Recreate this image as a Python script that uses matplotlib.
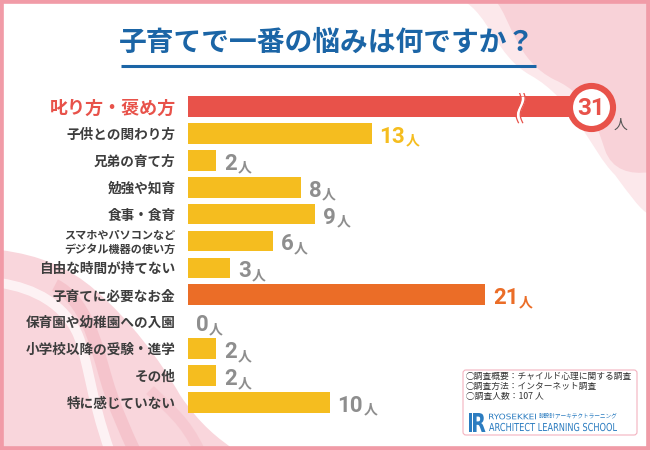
"""子育ての悩みアンケート: horizontal bar chart with a broken top bar."""

import matplotlib

matplotlib.use("Agg")
import matplotlib.pyplot as plt
import numpy as np
from matplotlib import font_manager
from matplotlib.font_manager import FontProperties
from matplotlib.patches import FancyBboxPatch, PathPatch, Rectangle
from matplotlib.path import Path
from matplotlib.textpath import TextPath
from matplotlib.transforms import Affine2D

title = "子育てで一番の悩みは何ですか？"
categories = [
    "叱り方・褒め方",
    "子供との関わり方",
    "兄弟の育て方",
    "勉強や知育",
    "食事・食育",
    "スマホやパソコンなど\nデジタル機器の使い方",
    "自由な時間が持てない",
    "子育てに必要なお金",
    "保育園や幼稚園への入園",
    "小学校以降の受験・進学",
    "その他",
    "特に感じていない",
]
counts = [31, 13, 2, 8, 9, 6, 3, 21, 0, 2, 2, 10]
unit = "人"
survey_notes = [
    "◯調査概要：チャイルド心理に関する調査",
    "◯調査方法：インターネット調査",
    "◯調査人数：107 人",
]
brand_top = "RYOSEKKEI"
brand_jp = "諒設計アーキテクトラーニング"
brand_bottom = "ARCHITECT LEARNING SCHOOL"

RED = "#e8524a"
ORANGE = "#eb6d27"
YELLOW = "#f5bd1f"
GREY = "#8e8e8e"
TEXT = "#3d3d3d"
BLUE = "#1b65a6"
LOGO_BLUE = "#2b7cc0"

installed = {f.name for f in font_manager.fontManager.ttflist}
num_font = "Roboto" if "Roboto" in installed else "DejaVu Sans"
plt.rcParams["font.family"] = ["Noto Sans CJK JP", "DejaVu Sans"]

W, H = 650, 450
fig = plt.figure(figsize=(6.5, 4.5), dpi=100)

# background layer in pixel coordinates (decoration, frame, title, notes)
bg = fig.add_axes([0, 0, 1, 1], zorder=0)
bg.set_xlim(0, W)
bg.set_ylim(H, 0)
bg.set_axis_off()

M, C, L, Z = Path.MOVETO, Path.CURVE4, Path.LINETO, Path.CLOSEPOLY


def blob(verts, codes, **kw):
    bg.add_patch(PathPatch(Path(verts, codes), **kw))


def fitted_text(s, left, baseline, width, cap, weight="normal", color=LOGO_BLUE):
    # squeeze a string into a box so the condensed logo type fits
    prop = FontProperties(family="DejaVu Sans", weight=weight)
    tp = TextPath((0, 0), s, size=10, prop=prop)
    ext = tp.get_extents()
    cap_ref = TextPath((0, 0), "H", size=10, prop=prop).get_extents().height
    tr = (Affine2D().translate(-ext.x0, 0)
          .scale(width / ext.width, -cap / cap_ref).translate(left, baseline))
    bg.add_patch(PathPatch(tr.transform_path(tp), fc=color, ec="none", lw=0))


# top-right pink waves
blob([(462, 0), (490, 15), (495, 55), (530, 75), (575, 100), (590, 150), (615, 175),
      (630, 195), (640, 210), (650, 215), (650, 0), (462, 0)],
     [M, C, C, C, C, C, C, C, C, C, L, Z], fc="#fce8eb", ec="none")
blob([(495, 0), (512, 20), (515, 60), (555, 80), (590, 95), (598, 130), (605, 150),
      (612, 170), (630, 175), (650, 172), (650, 0), (495, 0)],
     [M, C, C, C, C, C, C, C, C, C, L, Z], fc="#f8d2d8", ec="none")

# bottom-left ribbons
blob([(0, 250), (40, 255), (70, 268), (95, 290), (130, 320), (160, 360), (180, 395),
      (200, 425), (220, 440), (235, 450), (0, 450), (0, 250)],
     [M, C, C, C, C, C, C, C, C, C, L, Z], fc="#f9d6dc", ec="none")
blob([(0, 283), (35, 288), (65, 305), (78, 335), (88, 360), (90, 395), (110, 452)],
     [M, C, C, C, C, C, C], fill=False, ec="white", lw=7, alpha=0.7)
blob([(55, 285), (85, 300), (95, 340), (105, 375), (115, 410), (125, 430), (135, 452)],
     [M, C, C, C, C, C, C], fill=False, ec="#f2b3bd", lw=9, alpha=0.5)
blob([(150, 390), (170, 410), (185, 420), (200, 452)],
     [M, C, C, C], fill=False, ec="#f4bec7", lw=8, alpha=0.5)

# outer pink frame
bg.add_patch(Rectangle((0, 0), W, H, fill=False, ec="#f19ba7", lw=5.5))

# title with underline
fig.text(327 / W, 1 - 43 / H, title, ha="center", va="center", fontsize=20,
         fontweight="bold", color=BLUE)
bg.plot([121, 536], [66, 66], color=BLUE, lw=2.2, solid_capstyle="butt")

# survey note box with logo
bg.add_patch(FancyBboxPatch((463, 370), 174, 65, boxstyle="round,pad=0,rounding_size=3",
                            fc="white", ec="#f4b3c0", lw=0.8))
for k, line in enumerate(survey_notes):
    bg.text(466, 376.8 + 10 * k, line, va="center", ha="left", fontsize=6.3, color="#333333")
bg.add_patch(Rectangle((469, 413), 2.6, 19, fc=LOGO_BLUE, ec="none"))
fitted_text("R", 473, 432, 12.5, 19, weight="bold")
fitted_text(brand_top, 489, 419.3, 47, 5.6)
bg.text(539, 417.6, brand_jp, ha="left", va="baseline", fontsize=4.1, color=LOGO_BLUE)
fitted_text(brand_bottom, 489, 431, 128, 8)

# bar axes: 14.15 px per person, rows 26.9 px apart
px_per_unit = 14.15
row_h = 26.9
top_row = 106.5
x0 = 188
n = len(categories)
ax = fig.add_axes([x0 / W, 1 - (top_row + (n - 0.5) * row_h) / H, (W - x0) / W, n * row_h / H],
                  zorder=1)
ax.set_xlim(0, (W - x0) / px_per_unit)
ax.set_ylim(n - 0.5, -0.5)
ax.patch.set_alpha(0)
for s in ax.spines.values():
    s.set_visible(False)
ax.set_xticks([])

# bars longer than the cap are drawn broken
cap = 28.5
break_at = 23.5
shown = np.minimum(counts, cap)
order = list(np.argsort(counts)[::-1])
rank = [order.index(i) for i in range(n)]
bar_colors = [RED if r == 0 else ORANGE if r == 1 else YELLOW for r in rank]
value_colors = [RED if r == 0 else ORANGE if r == 1 else YELLOW if r == 2 else GREY for r in rank]

y = np.arange(n)
ax.barh(y, shown, height=0.77, color=bar_colors, zorder=2)

ax.set_yticks(y)
ax.set_yticklabels(categories)
ax.tick_params(axis="y", length=0, pad=9)
for lab, r in zip(ax.get_yticklabels(), rank):
    lab.set_fontweight("bold")
    if r == 0:
        lab.set_color(RED)
        lab.set_fontsize(13)
    elif "\n" in lab.get_text():
        lab.set_color(TEXT)
        lab.set_fontsize(8)
        lab.set_linespacing(1.05)
    else:
        lab.set_color(TEXT)
        lab.set_fontsize(9.8)

for i in range(n):
    if counts[i] > cap:
        # break mark
        yy = np.linspace(-0.6, 0.6, 40)
        wave = break_at + 0.17 * np.sin(np.pi * (yy + 0.6) / 0.6)
        inside = np.abs(yy) <= 0.39
        ax.fill_betweenx(i + yy[inside], wave[inside] - 0.13, wave[inside] + 0.13,
                         color="white", lw=0, zorder=3)
        ax.plot(wave - 0.15, i + yy, color=RED, lw=0.9, zorder=4)
        ax.plot(wave + 0.15, i + yy, color=RED, lw=0.9, zorder=4)
        # circled value
        ax.plot(shown[i], i, "o", ms=31, mfc="white", mec=RED, mew=4.4, zorder=5, clip_on=False)
        ax.text(shown[i], i + 0.08, f"{counts[i]}", ha="center", va="center", fontsize=17.5,
                fontweight="bold", color=RED, family=[num_font], zorder=6)
        ax.annotate(unit, xy=(shown[i], i), xytext=(21, -13), textcoords="offset points",
                    ha="center", va="center", fontsize=10, color="#555555", zorder=6,
                    annotation_clip=False)
        continue
    t = ax.annotate(f"{counts[i]}", xy=(shown[i], i), xytext=(5.5, -6.8), textcoords="offset points",
                    ha="left", va="baseline", fontsize=16, fontweight="bold",
                    color=value_colors[i], family=[num_font], zorder=4)
    ax.annotate(unit, xy=(1, 0), xycoords=t, xytext=(0.5, 0), textcoords="offset points",
                ha="left", va="bottom", fontsize=10, fontweight="bold",
                color=value_colors[i], zorder=4)

fig.savefig("out.png", dpi=100)
